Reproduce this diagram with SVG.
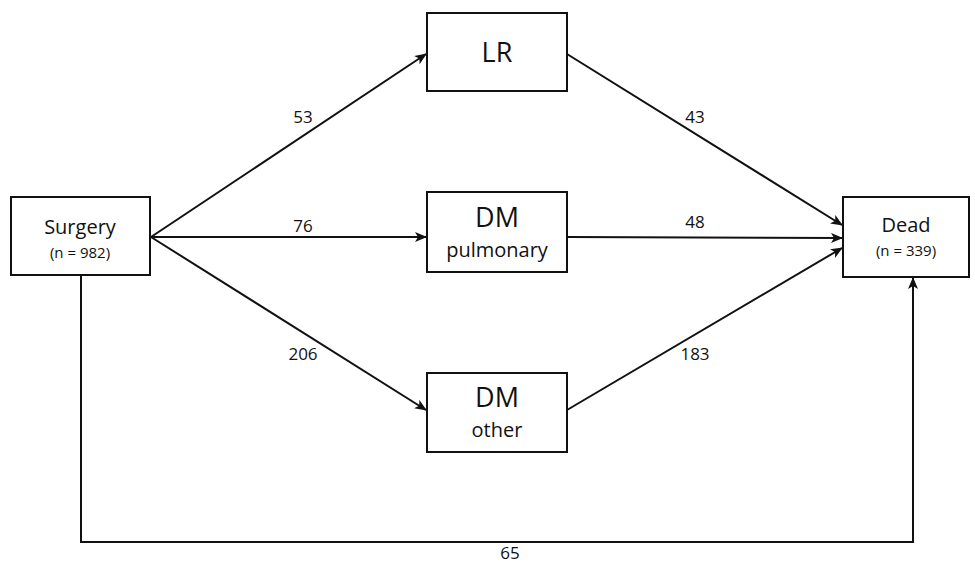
<svg xmlns="http://www.w3.org/2000/svg" width="975" height="563" viewBox="0 0 975 563">
<style>
.box{fill:#fff;stroke:#111;stroke-width:2}
.e{fill:none;stroke:#111;stroke-width:2}
text{font-family:"Open Sans","Noto Sans","Liberation Sans",sans-serif;fill:#111;text-anchor:middle}
.t{font-size:20px}
.big{font-size:27px}
.s{font-size:15px}
.lbl{font-size:17px}
</style>
<defs>
<marker id="a" viewBox="0 0 12 10" refX="11" refY="5" markerWidth="6" markerHeight="5" orient="auto" markerUnits="strokeWidth">
<path d="M0,0 L12,5 L0,10 L3,5 Z" fill="#111"/>
</marker>
</defs>
<g id="connectors">
<line class="e" x1="151" y1="237" x2="426" y2="54" marker-end="url(#a)"/>
<line class="e" x1="151" y1="237" x2="426" y2="237" marker-end="url(#a)"/>
<line class="e" x1="151" y1="237" x2="426" y2="410" marker-end="url(#a)"/>
<line class="e" x1="567" y1="54" x2="842" y2="225" marker-end="url(#a)"/>
<line class="e" x1="567" y1="237" x2="842" y2="238" marker-end="url(#a)"/>
<line class="e" x1="567" y1="410" x2="842" y2="248" marker-end="url(#a)"/>
<polyline class="e" points="81,275 81,542 913,542 913,278" marker-end="url(#a)"/>
<text class="lbl" x="303" y="123">53</text>
<text class="lbl" x="303" y="232">76</text>
<text class="lbl" x="303" y="360">206</text>
<text class="lbl" x="695" y="123">43</text>
<text class="lbl" x="695" y="228">48</text>
<text class="lbl" x="695" y="360">183</text>
<text class="lbl" x="510" y="559">65</text>
</g>
<g id="surgery">
<rect class="box" x="11" y="197" width="139" height="78"/>
<text class="t" x="80" y="234">Surgery</text>
<text class="s" x="80" y="258">(n = 982)</text>
</g>
<g id="lr">
<rect class="box" x="427" y="13" width="140" height="78"/>
<text class="big" x="497" y="62">LR</text>
</g>
<g id="dm-pulmonary">
<rect class="box" x="427" y="192" width="140" height="80"/>
<text class="big" x="497" y="227">DM</text>
<text class="t" x="497" y="257">pulmonary</text>
</g>
<g id="dm-other">
<rect class="box" x="427" y="373" width="140" height="79"/>
<text class="big" x="497" y="407">DM</text>
<text class="t" x="497" y="437">other</text>
</g>
<g id="dead">
<rect class="box" x="843" y="197" width="126" height="80"/>
<text class="t" x="906" y="232">Dead</text>
<text class="s" x="906" y="256">(n = 339)</text>
</g>
</svg>
